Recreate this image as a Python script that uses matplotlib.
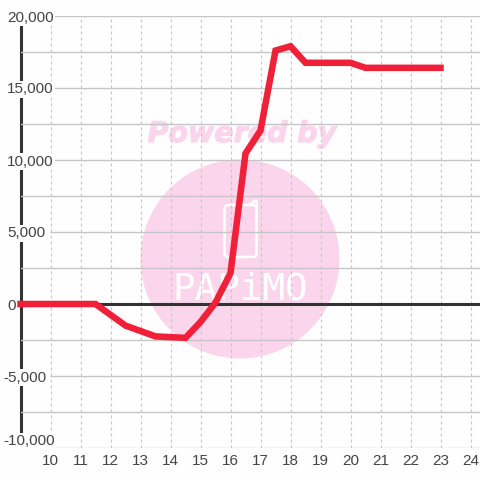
import matplotlib
matplotlib.use("Agg")
import matplotlib.patheffects as pe
import matplotlib.pyplot as plt
from matplotlib.patches import Circle, FancyBboxPatch
from matplotlib.ticker import FuncFormatter, MultipleLocator
from matplotlib.transforms import Affine2D

hours = [9, 11.5, 12.5, 13.5, 14.5, 15, 15.5, 16, 16.5, 17, 17.5, 18, 18.5, 20, 20.5, 23]
values = [0, 0, -1500, -2250, -2350, -1250, 100, 2150, 10450, 12050, 17600, 17900, 16750, 16750, 16400, 16400]
x_ticks = list(range(10, 25))
y_ticks = [-10000, -5000, 0, 5000, 10000, 15000, 20000]

plt.rcParams["font.family"] = ["Liberation Sans", "DejaVu Sans"]

fig = plt.figure(figsize=(4.8, 4.8), dpi=100, facecolor="#fefefe")
ax = fig.add_axes([20.5 / 480, 32 / 480, 459.5 / 480, 432 / 480], facecolor="#fefefe")
ax.set_xlim(9, 9 + 459.5 / 30)
ax.set_ylim(-10000, 20000)

# watermark, placed in pixels from the top left, behind the grid
wm = Affine2D().scale(1, -1).translate(0, 480)
pink = "#fbd5ec"
ax.add_patch(Circle((240, 259), 99.5, transform=wm, color=pink, lw=0, zorder=0))
ax.add_patch(FancyBboxPatch((224.5, 205), 32, 52, boxstyle="round,pad=0,rounding_size=4", transform=wm,
                            fc="none", ec="white", lw=1.8, zorder=0.5))
ax.plot([249, 255, 256.5, 256.5], [205, 200.5, 201, 210], transform=wm, color="white", lw=1.8, zorder=0.5)
ax.text(242, 134, "Powered by", transform=wm, color=pink, fontsize=20.5, fontweight="bold",
        fontstyle="italic", family="DejaVu Sans", ha="center", va="center", zorder=0.5,
        path_effects=[pe.withStroke(linewidth=0.8, foreground=pink)])
ax.text(240, 289, "PAPiMO", transform=wm, color="white", fontsize=27, family="DejaVu Sans Mono",
        ha="center", va="center", zorder=0.6)

ax.yaxis.set_minor_locator(MultipleLocator(2500))
ax.set_xticks(x_ticks)
ax.set_yticks(y_ticks)
ax.yaxis.set_major_formatter(FuncFormatter(lambda v, _: f"{int(v):,}"))
ax.grid(True, axis="y", which="minor", color="#c6c6c6", lw=1.0)
ax.hlines(y_ticks, 9.98, ax.get_xlim()[1], color="#c6c6c6", lw=1.0, zorder=1)
ax.grid(True, axis="x", which="major", color="#c6c6c6", lw=0.8, ls=(0, (2.7, 2.7)))
ax.set_axisbelow(False)

for side in ["top", "right", "bottom"]:
    ax.spines[side].set_visible(False)
ax.spines["left"].set_bounds(-9236, 19444)
ax.spines["left"].set_linewidth(2.2)
ax.spines["left"].set_color("#333333")
ax.spines["left"].set_zorder(1.5)

ax.tick_params(axis="both", which="both", length=0)
ax.tick_params(axis="y", labelsize=11, labelcolor="#444444")
ax.tick_params(axis="x", pad=4, labelsize=11, labelcolor="#444444")
# y labels are left aligned, the minus sign hangs further out
for tick, v in zip(ax.yaxis.get_major_ticks(), y_ticks):
    tick.set_pad(12.5 if v < 0 else 9.5)
    tick.label1.set_ha("left")
    tick.label1.set_bbox(dict(fc="#fefefe", ec="none", pad=1))
ax.yaxis.get_major_ticks()[0].label1.set_va("bottom")

ax.axhline(0, color="#333333", lw=2.2, zorder=3)
ax.plot(hours, values, color="#f02038", lw=4.7, solid_joinstyle="miter", solid_capstyle="projecting",
        clip_on=False, zorder=4)

fig.savefig("out.png", dpi=100, facecolor=fig.get_facecolor())
